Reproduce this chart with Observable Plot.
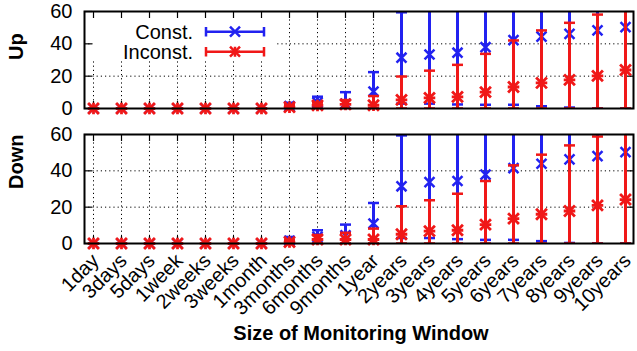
<!DOCTYPE html>
<html><head><meta charset="utf-8">
<script src="https://cdn.jsdelivr.net/npm/d3@7"></script>
<script src="https://cdn.jsdelivr.net/npm/@observablehq/plot@0.6"></script>
<style>
body{margin:0;background:#fff;}
#wrap{position:relative;width:637px;height:351px;overflow:hidden;font-family:"Liberation Sans",Arial,sans-serif;background:#fff;}
#wrap svg{position:absolute;left:0;}
</style></head><body><div id="wrap"></div>
<script>
const categories = ["1day","3days","5days","1week","2weeks","3weeks","1month","3months","6months","9months","1year","2years","3years","4years","5years","6years","7years","8years","9years","10years"];
const yTicks = [0, 20, 40, 60];
const seriesNames = ["Const.", "Inconst."];

// Up panel (values above 60 run off the chart)
const upConstMean   = [0,0,0,0,0,0,0,1.5,3.8,3.0,10.5,31.4,33.4,34.5,37.9,42.3,44.5,46.2,48.3,50.3];
const upConstLow    = [0,0,0,0,0,0,0,0,0,0,0,3.0,3.0,2.5,2.3,2.3,1.4,0.6,0,0];
const upConstHigh   = [0,0,0,0,0,0,0,3.5,7.3,10.1,22.5,59.5,65,65,65,65,65,65,65,65];
const upInconMean   = [0,0,0,0,0,0,0,0.8,1.9,2.5,2.0,5.3,6.6,7.2,10.1,13.3,15.8,17.7,20.2,23.8];
const upInconLow    = [0,0,0,0,0,0,0,0,0,0,0,0,0,0,0,0,0,0,0,0];
const upInconHigh   = [0,0,0,0,0,0,0,2.0,3.6,5.2,7.7,19.8,23.4,27.0,33.8,42.1,48.3,53.0,58.1,65];

// Down panel
const downConstMean = [0,0,0,0,0,0,0,1.5,3.6,4.5,11.0,31.5,33.8,34.4,37.9,41.5,43.9,46.3,48.1,50.3];
const downConstLow  = [0,0,0,0,0,0,0,0,0,0,0,3.0,3.0,2.4,2.0,2.0,1.3,0.3,0,0];
const downConstHigh = [0,0,0,0,0,0,0,3.6,7.3,10.4,22.3,59.5,65,65,65,65,65,65,65,65];
const downInconMean = [0,0,0,0,0,0,0,0.8,2.2,2.2,2.2,5.1,6.8,7.3,10.4,13.7,16.1,17.9,21.0,24.2];
const downInconLow  = [0,0,0,0,0,0,0,0,0,0,0,0,0,0,0,0,0,0,0,0];
const downInconHigh = [0,0,0,0,0,0,0,2.0,4.6,5.9,8.2,20.5,23.8,27.4,34.4,43.0,48.9,54.0,58.9,65];

const BLUE = "#2222f0", RED = "#f01818";
const FONT = "Liberation Sans, Arial, sans-serif";
const W = 637, ML = 84, MR = 4;

const capSymbol = {draw(ctx, size){ const r = Math.sqrt(size/Math.PI); ctx.moveTo(-r,0); ctx.lineTo(r,0); }};

function rows(mean, low, high){ return categories.map((c,i)=>({cat:c, mean:mean[i], low:low[i], high:high[i]})); }

function seriesMarks(data, color, isStar){
  const m = [
    Plot.ruleX(data, {x:"cat", y1:"low", y2:"high", stroke:color, strokeWidth:3, clip:true}),
    Plot.dot(data, {x:"cat", y:"high", symbol:capSymbol, r:5.5, stroke:color, fill:"none", strokeWidth:2.5, clip:true}),
    Plot.dot(data, {x:"cat", y:"low", symbol:capSymbol, r:5.5, stroke:color, fill:"none", strokeWidth:2.5, clip:true}),
    Plot.dot(data, {x:"cat", y:"mean", symbol:"times", r: isStar ? 5 : 4.6, stroke:color, strokeWidth: isStar ? 2.8 : 2.5})
  ];
  if (isStar) m.push(Plot.dot(data, {x:"cat", y:"mean", symbol:"plus", r:3.8, stroke:color, strokeWidth:2.8}));
  return m;
}

function panel({label, cM, cL, cH, iM, iL, iH, height, mt, mb, showX}){
  const frameH = height - mt - mb;
  const frameW = W - ML - MR;
  const marks = [
    Plot.ruleX(categories, {x:d=>d, stroke:"#000", strokeWidth:1, strokeDasharray:"1.2,3"}),
    Plot.ruleY(yTicks.slice(1,3), {y:d=>d, stroke:"#000", strokeWidth:1, strokeDasharray:"1.2,3"}),
    Plot.tickY(yTicks, {y:d=>d, stroke:"#000", strokeWidth:1.2, insetRight: frameW-8}),
    Plot.tickY(yTicks, {y:d=>d, stroke:"#000", strokeWidth:1.2, insetLeft: frameW-8}),
    Plot.tickX(categories, {x:d=>d, stroke:"#000", strokeWidth:1.2, insetTop: frameH-7}),
    Plot.tickX(categories, {x:d=>d, stroke:"#000", strokeWidth:1.2, insetBottom: frameH-7}),
    ...seriesMarks(rows(cM, cL, cH), BLUE, false),
    ...seriesMarks(rows(iM, iL, iH), RED, true),
    Plot.frame({stroke:"#000", strokeWidth:2}),
    Plot.axisY({ticks: yTicks, tickSize:0, tickPadding:12, fontSize:20, label:null}),
    Plot.text([label], {text:d=>d, frameAnchor:"left", dx:-68, rotate:-90, fontWeight:"bold", fontSize:20})
  ];
  if (showX) {
    marks.push(Plot.axisX({tickSize:0, tickPadding:14, dx:2, tickRotate:-45, fontSize:20, label:null}));
    marks.push(Plot.text(["Size of Monitoring Window"], {text:d=>d, frameAnchor:"bottom", dy:96, dx:2, fontWeight:"bold", fontSize:20}));
  }
  return Plot.plot({
    width: W, height, marginLeft: ML, marginRight: MR, marginTop: mt, marginBottom: mb,
    style: {fontFamily: FONT, background:"transparent", overflow:"visible"},
    x: {type:"point", domain: categories, padding:0, axis:null},
    y: {domain:[0,60], axis:null},
    marks
  });
}

const wrap = document.getElementById("wrap");
const topPanel = panel({label:"Up", cM:upConstMean, cL:upConstLow, cH:upConstHigh, iM:upInconMean, iL:upInconLow, iH:upInconHigh, height:120, mt:11, mb:12, showX:false});
topPanel.style.top = "0px";
const botPanel = panel({label:"Down", cM:downConstMean, cL:downConstLow, cH:downConstHigh, iM:downInconMean, iL:downInconLow, iH:downInconHigh, height:231, mt:14, mb:108, showX:true});
botPanel.style.top = "120px";
wrap.appendChild(botPanel);
wrap.appendChild(topPanel);

// Legend (opaque box as in the original)
const ns = "http://www.w3.org/2000/svg";
const lg = document.createElementNS(ns, "svg");
lg.setAttribute("width", 637); lg.setAttribute("height", 70);
lg.style.top = "0px";
const colors = [BLUE, RED];
let html = `<rect x="93" y="19" width="184" height="42" fill="#fff"/>`;
seriesNames.forEach((name, i) => {
  const y = 31.7 + i*20, c = colors[i];
  html += `<text x="193" y="${y}" dy="0.35em" text-anchor="end" font-family="${FONT}" font-size="20" fill="#000">${name}</text>`;
  html += `<g stroke="${c}" stroke-width="2.5" fill="none"><path d="M206,${y}H264M206,${y-4.7}V${y+4.7}M264,${y-4.7}V${y+4.7}"/>`;
  html += `<path d="M230,${y-5}L240,${y+5}M230,${y+5}L240,${y-5}"/>`;
  if (i===1) html += `<path d="M230,${y}H240M235,${y-5}V${y+5}"/>`;
  html += `</g>`;
});
lg.innerHTML = html;
wrap.appendChild(lg);
</script></body></html>
